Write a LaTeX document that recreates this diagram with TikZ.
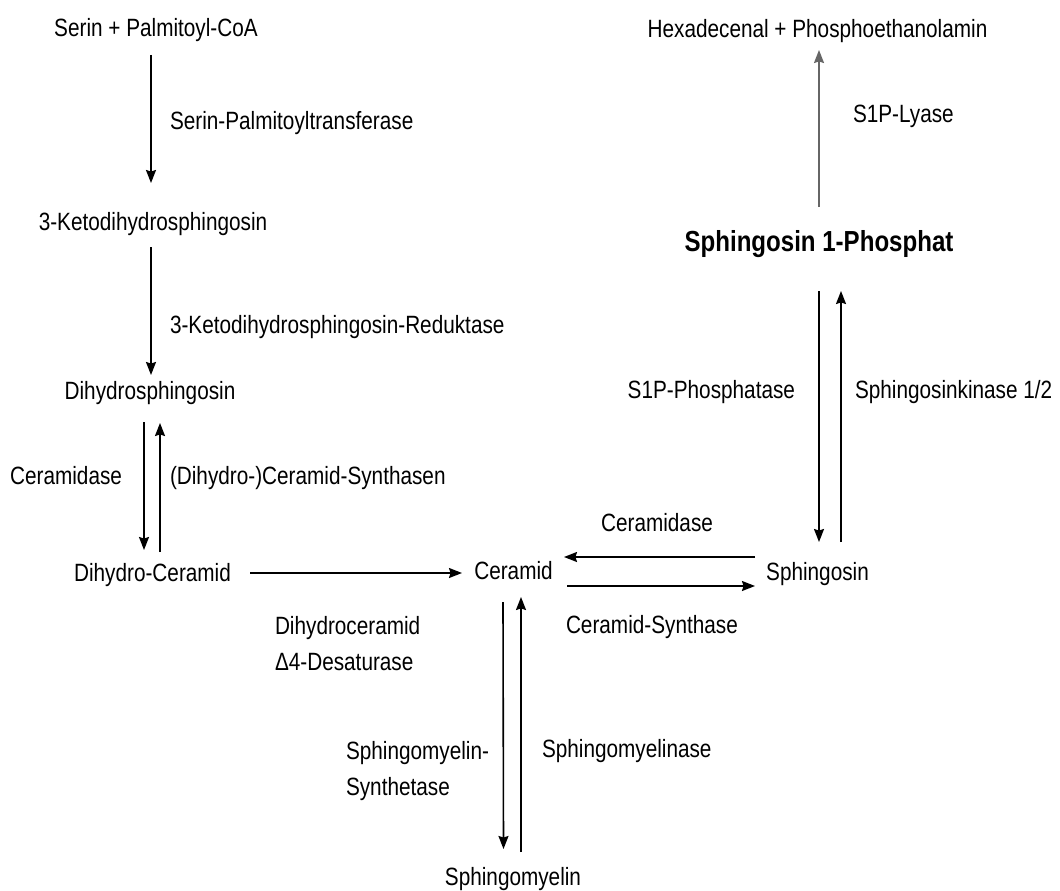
\documentclass[tikz,border=0pt]{standalone}
\usepackage{fontspec}
\setmainfont{Liberation Sans}[FakeStretch=0.83]
\usetikzlibrary{arrows.meta,calc}

\tikzset{
  txt/.style={inner sep=0pt, outer sep=0pt, text=black,
              font=\fontsize{25}{36}\selectfont},
  bigtxt/.style={inner sep=0pt, outer sep=0pt, text=black,
              font=\fontsize{29}{34}\selectfont\bfseries},
  arr/.style={line width=1.6pt, draw=black,
              -{Stealth[length=13pt,width=10pt,inset=1.5pt]}},
  greyarr/.style={arr, draw=black!60}
}

\begin{document}
\begin{tikzpicture}[x=1pt, y=-1pt]
\useasboundingbox (0,0) rectangle (1060,891);

% metabolites
\node[txt, anchor=base] (ser)  at (156,37)   {Serin + Palmitoyl-CoA};
\node[txt, anchor=base] (keto) at (153,230)  {3-Ketodihydrosphingosin};
\node[txt, anchor=base] (dhs)  at (150,399)  {Dihydrosphingosin};
\node[txt, anchor=base] (dhc)  at (152.5,581){Dihydro-Ceramid};
\node[txt, anchor=base] (cer)  at (513.5,579){Ceramid};
\node[txt, anchor=base] (sph)  at (817.5,580){Sphingosin};
\node[txt, anchor=base] (sm)   at (513,885)  {Sphingomyelin};
\node[txt, anchor=base] (hex)  at (817.5,38) {Hexadecenal + Phosphoethanolamin};
\node[bigtxt, anchor=base] (s1p) at (819,251) {Sphingosin 1-Phosphat};

% enzymes (two-line labels are placed by the baseline of their last line)
\node[txt, anchor=base west] (spt)   at (170,129) {Serin-Palmitoyltransferase};
\node[txt, anchor=base west] (ksr)   at (170,333) {3-Ketodihydrosphingosin-Reduktase};
\node[txt, anchor=base east] (cdl)   at (122,484) {Ceramidase};
\node[txt, anchor=base west] (cs)    at (170,484) {(Dihydro-)Ceramid-Synthasen};
\node[txt, anchor=base west, align=left] (des) at (275,670) {Dihydroceramid\\Δ4-Desaturase};
\node[txt, anchor=base] (cdr)        at (657,531) {Ceramidase};
\node[txt, anchor=base west] (csy)   at (566,633) {Ceramid-Synthase};
\node[txt, anchor=base west, align=left] (sms) at (346,795) {Sphingomyelin-\\Synthetase};
\node[txt, anchor=base west] (smase) at (542,757) {Sphingomyelinase};
\node[txt, anchor=base west] (lya)   at (853,122) {S1P-Lyase};
\node[txt, anchor=base east] (s1pp)  at (795,398) {S1P-Phosphatase};
\node[txt, anchor=base west] (sk)    at (855,398) {Sphingosinkinase 1/2};

% de novo synthesis
\draw[arr] ($(ser.base)+(-5,18)$)   -- ($(keto.base)+(-2,-47)$);
\draw[arr] ($(keto.base)+(-2,17)$)  -- ($(dhs.base)+(1,-24)$);
\draw[arr] ($(dhs.base)+(-6,23)$)   -- ($(dhc.base)+(-8.5,-31)$);
\draw[arr] ($(dhc.base)+(7.5,-29)$) -- ($(dhs.base)+(10,24)$);
\draw[arr] ($(dhc.base)+(97.5,-8)$) -- ($(cer.base)+(-51.5,-6)$);

% ceramide / sphingosine
\draw[arr] ($(sph.base)+(-62.5,-23)$) -- ($(cer.base)+(50.5,-22)$);
\draw[arr] ($(cer.base)+(53.5,7)$)    -- ($(sph.base)+(-62.5,6)$);

% sphingomyelin cycle
\draw[arr] ($(cer.base)+(-10.5,23)$) -- ($(sm.base)+(-9.5,-36)$);
\draw[arr] ($(sm.base)+(8,-33)$)     -- ($(cer.base)+(7.5,18)$);

% S1P branch
\draw[greyarr] ($(s1p.base)+(0,-44)$) -- ($(hex.base)+(1.5,12)$);
\draw[arr] ($(s1p.base)+(0,40)$)     -- ($(sph.base)+(1.5,-38)$);
\draw[arr] ($(sph.base)+(23.5,-38)$) -- ($(s1p.base)+(22,40)$);
\end{tikzpicture}
\end{document}
